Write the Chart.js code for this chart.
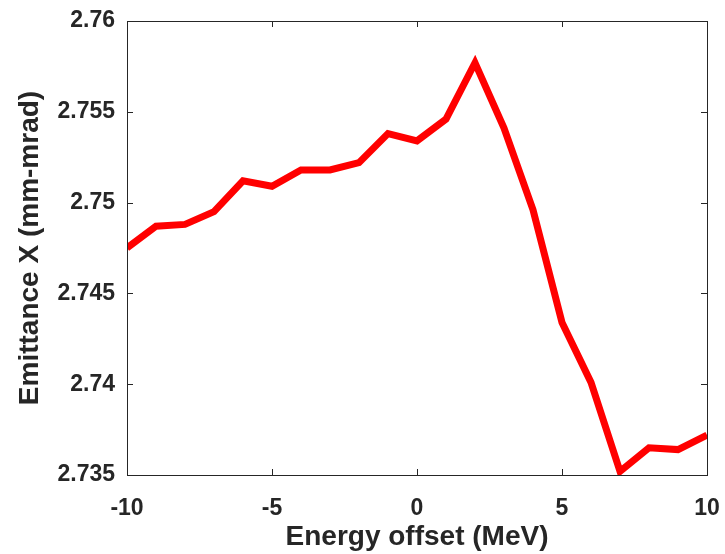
<!DOCTYPE html>
<html>
<head>
<meta charset="utf-8">
<script src="https://cdn.jsdelivr.net/npm/chart.js@4/dist/chart.umd.min.js"></script>
<style>
  html, body { margin: 0; padding: 0; background: #fff; }
  #wrap { width: 725px; height: 554px; }
</style>
</head>
<body>
<div id="wrap"><canvas id="chart" width="725" height="554"></canvas></div>
<script>
// energy offset (MeV) vs horizontal emittance
const energyOffset = [-10, -9, -8, -7, -6, -5, -4, -3, -2, -1, 0, 1, 2, 3, 4, 5, 6, 7, 8, 9, 10];
const emittanceX = [2.7475, 2.7487, 2.7488, 2.7495, 2.7512, 2.7509, 2.7518, 2.7518, 2.7522, 2.7538,
  2.7534, 2.7546, 2.7577, 2.7541, 2.7496, 2.7434, 2.7401, 2.7352, 2.7365, 2.7364, 2.7372];
const xTicks = [-10, -5, 0, 5, 10];
const yTicks = [2.735, 2.74, 2.745, 2.75, 2.755, 2.76];
const yTickLabels = ['2.735', '2.74', '2.745', '2.75', '2.755', '2.76'];

const axisColor = '#262626';
const tickFont = { family: 'Liberation Sans, Arial, sans-serif', size: 23, weight: 'bold' };
const titleFont = { family: 'Liberation Sans, Arial, sans-serif', size: 28, weight: 'bold' };

// matlab-style box with inward ticks on all four sides
const boxPlugin = {
  id: 'box',
  afterDraw(chart) {
    const { ctx, chartArea: a, scales } = chart;
    const len = 6;
    ctx.save();
    ctx.strokeStyle = axisColor;
    ctx.lineWidth = 1;
    ctx.strokeRect(a.left + 0.5, a.top + 0.5, a.right - a.left, a.bottom - a.top);
    ctx.beginPath();
    xTicks.forEach(v => {
      const px = Math.round(scales.x.getPixelForValue(v)) + 0.5;
      ctx.moveTo(px, a.bottom); ctx.lineTo(px, a.bottom - len);
      ctx.moveTo(px, a.top); ctx.lineTo(px, a.top + len);
    });
    yTicks.forEach(v => {
      const py = Math.round(scales.y.getPixelForValue(v)) + 0.5;
      ctx.moveTo(a.left, py); ctx.lineTo(a.left + len, py);
      ctx.moveTo(a.right, py); ctx.lineTo(a.right - len, py);
    });
    ctx.stroke();
    ctx.restore();
  }
};

new Chart(document.getElementById('chart'), {
  type: 'line',
  data: {
    datasets: [{
      data: energyOffset.map((x, i) => ({ x, y: emittanceX[i] })),
      borderColor: '#ff0000',
      borderWidth: 7,
      pointRadius: 0,
      tension: 0,
      fill: false
    }]
  },
  options: {
    responsive: false,
    animation: false,
    layout: { padding: { top: 21, right: 18, left: 0, bottom: 0 } },
    plugins: { legend: { display: false }, tooltip: { enabled: false } },
    scales: {
      x: {
        type: 'linear',
        min: -10,
        max: 10,
        afterBuildTicks: s => { s.ticks = xTicks.map(v => ({ value: v })); },
        afterFit: s => { s.height = 79; s.paddingLeft = 0; s.paddingRight = 0; },
        grid: { display: false, drawTicks: false, tickLength: 0 },
        border: { display: false },
        ticks: { color: axisColor, font: tickFont, padding: 20, maxRotation: 0 },
        title: { display: true, text: 'Energy offset (MeV)', color: axisColor, font: titleFont, padding: { top: 0, bottom: 0 } }
      },
      y: {
        type: 'linear',
        min: 2.735,
        max: 2.76,
        afterBuildTicks: s => { s.ticks = yTicks.map(v => ({ value: v })); },
        afterFit: s => { s.width = 127; s.paddingTop = 0; s.paddingBottom = 0; },
        grid: { display: false, drawTicks: false },
        border: { display: false },
        ticks: {
          color: axisColor, font: tickFont, padding: 12,
          callback: (v, i) => yTickLabels[i]
        },
        title: { display: true, text: 'Emittance X (mm-mrad)', color: axisColor, font: titleFont, padding: { top: 13, bottom: 0 } }
      }
    }
  },
  plugins: [boxPlugin]
});
</script>
</body>
</html>
